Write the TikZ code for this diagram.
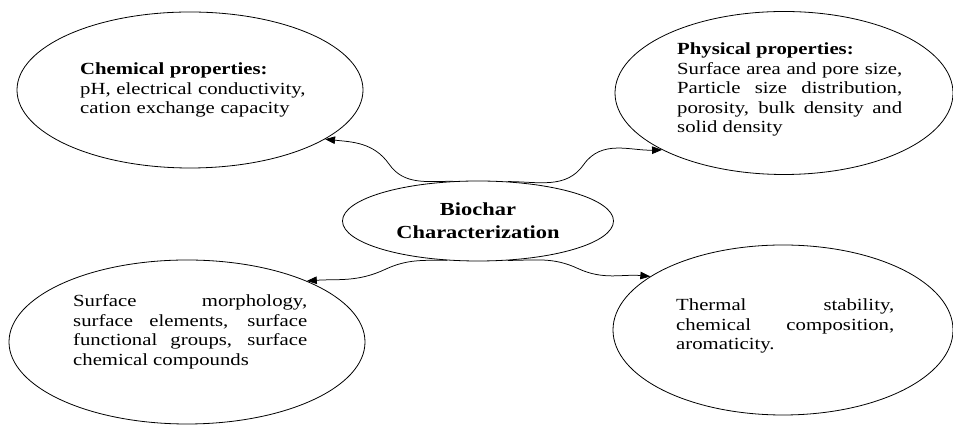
\documentclass[tikz,border=0pt]{standalone}
\usepackage{fontspec}
\setmainfont{Liberation Serif}[FakeStretch=1.22]
\usetikzlibrary{arrows.meta,shapes.geometric}

\begin{document}
\begin{tikzpicture}[x=1pt,y=1pt,
  bubble/.style={draw,ellipse,line width=0.8pt,inner sep=0pt},
  bodytxt/.style={inner sep=0pt,anchor=base west,font=\fontsize{17}{19.4}\selectfont},
  link/.style={line width=0.75pt,-{Triangle[length=10pt,width=7.5pt]}}]
  \useasboundingbox (0,0) rectangle (953,427);

  \node[bubble,minimum width=346pt,minimum height=156pt] (chem) at (190,337) {};
  \node[bubble,minimum width=338pt,minimum height=163pt] (phys) at (784,334) {};
  \node[bubble,minimum width=356pt,minimum height=164pt] (surf) at (187,85) {};
  \node[bubble,minimum width=340pt,minimum height=170pt] (therm) at (783,97) {};
  \node[bubble,minimum width=271pt,minimum height=80pt,align=center,
        font=\fontsize{18.4}{23}\selectfont\bfseries] (bio) at (478,206) {Biochar\\Characterization};

  \node[bodytxt,text width=230pt,align=left] (chemtxt) at (80,352)
    {\textbf{Chemical properties:}\\pH, electrical conductivity,\\cation exchange capacity};
  \node[bodytxt,text width=225pt,align=justify] (phystxt) at (677,372)
    {\textbf{Physical properties:}\\Surface area and pore size,\linebreak Particle size distribution,\linebreak porosity, bulk density and\linebreak solid density};
  \node[bodytxt,text width=234pt,align=justify] (surftxt) at (73,120)
    {Surface morphology,\linebreak surface elements, surface\linebreak functional groups, surface\linebreak chemical compounds};
  \node[bodytxt,text width=218pt,align=justify] (thermtxt) at (676,116)
    {Thermal stability,\linebreak chemical composition,\linebreak aromaticity.};

  \draw[link] (bio.122) to[out=180,in=-55] ++(-64,17) to[out=125,in=-6] (chem.-20);
  \draw[link] (bio.53) to[out=0,in=235] ++(76,17) to[out=55,in=182] (phys.205);
  \draw[link] (bio.232) to[out=180,in=25] ++(-62,-9) to[out=205,in=4] (surf.27);
  \draw[link] (bio.307) to[out=0,in=155] ++(70,-8) to[out=-25,in=175] (therm.158);
\end{tikzpicture}
\end{document}
